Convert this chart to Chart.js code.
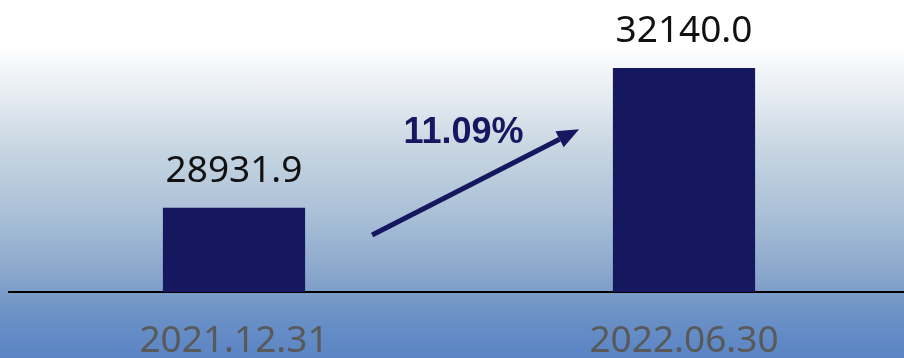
<!DOCTYPE html>
<html>
<head>
<meta charset="utf-8">
<script src="https://cdn.jsdelivr.net/npm/chart.js@4/dist/chart.umd.min.js"></script>
<style>
  html, body { margin: 0; padding: 0; overflow: hidden; }
  body {
    width: 904px;
    height: 358px;
    background: linear-gradient(to bottom, #ffffff 0%, #ffffff 13%, #e1e8ef 29%, #c6d5e1 42%, #aac0d7 60%, #88a5cb 77%, #6b91c6 88%, #5a84c5 100%);
  }
  #wrap { position: relative; width: 909px; height: 358px; }
</style>
</head>
<body>
<div id="wrap"><canvas id="growthChart"></canvas></div>
<script>
const categories = ['2021.12.31', '2022.06.30'];
const values = [28931.9, 32140.0];

const barColor = '#15175f';
const growth = ((values[1] / values[0] - 1) * 100).toFixed(2) + '%';

// value labels above each bar
const valueLabels = {
    id: 'valueLabels',
    afterDatasetsDraw(chart) {
        const ctx = chart.ctx;
        const meta = chart.getDatasetMeta(0);
        ctx.save();
        ctx.font = '37px "Noto Sans"';
        ctx.fillStyle = '#111111';
        ctx.textAlign = 'center';
        ctx.textBaseline = 'alphabetic';
        meta.data.forEach((bar, i) => {
            ctx.fillText(values[i].toFixed(1), bar.x, bar.y - 26);
        });
        ctx.restore();
    }
};

// growth arrow between the two bars
const growthArrow = {
    id: 'growthArrow',
    afterDraw(chart) {
        const x = chart.scales.x;
        const y = chart.scales.y;
        const ctx = chart.ctx;
        const x0 = x.getPixelForValue(0.307), y0 = y.getPixelForValue(28306);
        const x1 = x.getPixelForValue(0.767), y1 = y.getPixelForValue(30735);
        const ang = Math.atan2(y1 - y0, x1 - x0);
        const headLen = 22, headW = 9;
        const bx = x1 - headLen * Math.cos(ang), by = y1 - headLen * Math.sin(ang);

        ctx.save();
        ctx.strokeStyle = barColor;
        ctx.fillStyle = barColor;
        ctx.lineWidth = 5;
        ctx.beginPath();
        ctx.moveTo(x0, y0);
        ctx.lineTo(bx, by);
        ctx.stroke();

        ctx.beginPath();
        ctx.moveTo(x1, y1);
        ctx.lineTo(bx + headW * Math.sin(ang), by - headW * Math.cos(ang));
        ctx.lineTo(bx - headW * Math.sin(ang), by + headW * Math.cos(ang));
        ctx.closePath();
        ctx.fill();

        ctx.font = 'bold 36px "Liberation Sans", Arial, sans-serif';
        ctx.textAlign = 'center';
        ctx.textBaseline = 'alphabetic';
        ctx.fillText(growth, x.getPixelForValue(0.51), y.getPixelForValue(30414));
        ctx.restore();
    }
};

new Chart(document.getElementById('growthChart'), {
    type: 'bar',
    data: {
        labels: categories,
        datasets: [{
            data: values,
            backgroundColor: barColor,
            categoryPercentage: 1,
            barPercentage: 0.316
        }]
    },
    options: {
        responsive: true,
        maintainAspectRatio: false,
        animation: false,
        layout: { padding: { left: 9, right: 0, top: 0, bottom: 0 } },
        plugins: {
            legend: { display: false },
            tooltip: { enabled: false }
        },
        scales: {
            x: {
                z: 1,
                grid: { display: false, drawTicks: false },
                border: { display: true, color: '#000000', width: 2 },
                ticks: {
                    color: '#595959',
                    padding: 27,
                    font: { family: 'Noto Sans', size: 37 }
                },
                afterFit: scale => { scale.height = 66; }
            },
            y: {
                display: false,
                min: 27000,
                max: 33700
            }
        }
    },
    plugins: [valueLabels, growthArrow]
});
</script>
</body>
</html>
